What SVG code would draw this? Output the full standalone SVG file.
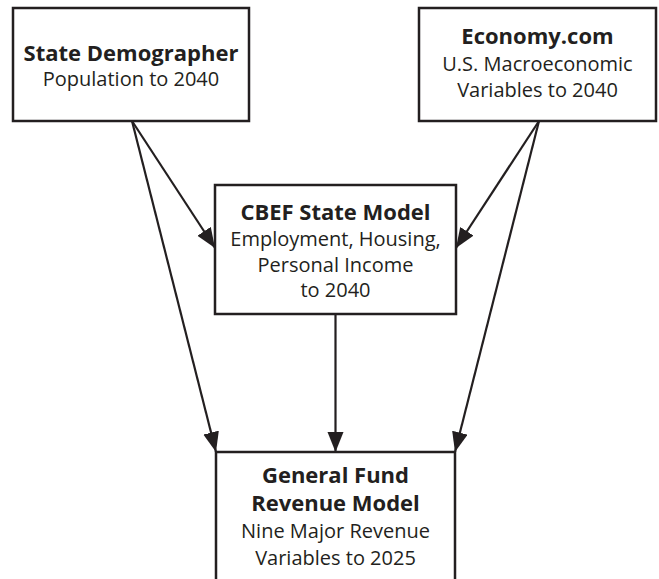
<svg xmlns="http://www.w3.org/2000/svg" width="659" height="579" viewBox="0 0 659 579">
<defs>
<style>
.box{fill:#fff;stroke:#231f20;stroke-width:2.5}
.t{font-family:"Open Sans","Liberation Sans",sans-serif;font-size:20px;fill:#231f20;text-anchor:middle}
.b{font-weight:bold;font-size:22px}
.c{stroke:#231f20;stroke-width:2.2;fill:none;marker-end:url(#ah)}
</style>
<marker id="ah" markerUnits="userSpaceOnUse" markerWidth="22" markerHeight="18" refX="20" refY="8" orient="auto">
<path d="M0,0 L20,8 L0,16 z" fill="#231f20"/>
</marker>
</defs>
<rect width="659" height="579" fill="#fff"/>
<g id="connectors">
<line class="c" x1="132" y1="121" x2="215" y2="248"/>
<line class="c" x1="132" y1="121" x2="216" y2="452"/>
<line class="c" x1="539" y1="121" x2="456" y2="248"/>
<line class="c" x1="539" y1="121" x2="455" y2="452"/>
<line class="c" x1="335.5" y1="314" x2="335.5" y2="452"/>
</g>
<g id="state-demographer">
<rect class="box" x="13" y="8" width="236" height="113"/>
<text class="t b" x="131" y="61">State Demographer</text>
<text class="t" x="131" y="86">Population to 2040</text>
</g>
<g id="economy">
<rect class="box" x="419" y="8" width="237" height="113"/>
<text class="t b" x="537.5" y="44">Economy.com</text>
<text class="t" x="537.5" y="71">U.S. Macroeconomic</text>
<text class="t" x="537.5" y="97">Variables to 2040</text>
</g>
<g id="cbef">
<rect class="box" x="215" y="185" width="241" height="129"/>
<text class="t b" x="335.5" y="220">CBEF State Model</text>
<text class="t" x="335.5" y="246">Employment, Housing,</text>
<text class="t" x="335.5" y="272">Personal Income</text>
<text class="t" x="335.5" y="297">to 2040</text>
</g>
<g id="general-fund">
<rect class="box" x="216" y="452" width="239" height="140"/>
<text class="t b" x="335.5" y="483">General Fund</text>
<text class="t b" x="335.5" y="511">Revenue Model</text>
<text class="t" x="335.5" y="538">Nine Major Revenue</text>
<text class="t" x="335.5" y="565">Variables to 2025</text>
</g>
</svg>
